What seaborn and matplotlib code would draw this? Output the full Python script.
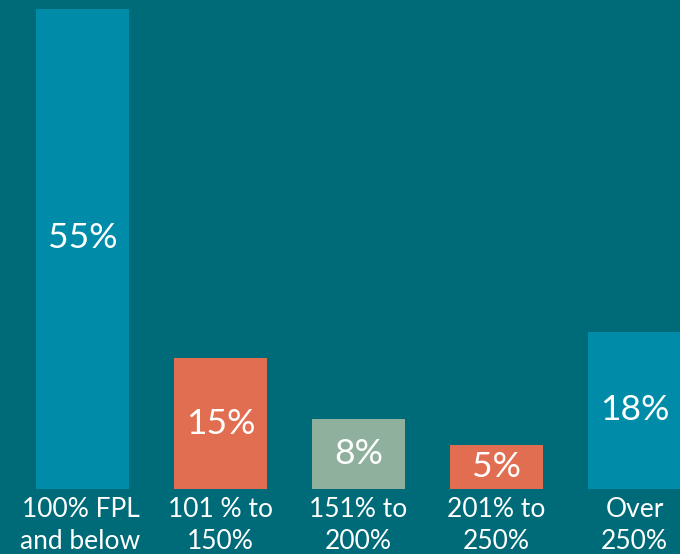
import matplotlib
matplotlib.use("Agg")
import matplotlib.pyplot as plt
import seaborn as sns
import pandas as pd

categories = ["100% FPL\nand below", "101 % to\n150%", "151% to\n200%", "201% to\n250%", "Over\n250%"]
values = [55, 15, 8, 5, 18]
value_labels = ["55%", "15%", "8%", "5%", "18%"]
colors = ["#008ca8", "#e16e50", "#8fb09d", "#e16e50", "#008ca8"]
bg = "#006b78"

sns.set_theme(style="white")
plt.rcParams["font.family"] = ["Lato", "DejaVu Sans"]

W, H = 680, 554
fig = plt.figure(figsize=(W / 100, H / 100), dpi=100, facecolor=bg)
base_px = 489
ax = fig.add_axes([0, (H - base_px) / H, 1, base_px / H])
ax.set_facecolor(bg)

df = pd.DataFrame({"cat": categories, "val": values})
sns.barplot(data=df, x="cat", y="val", hue="cat", palette=colors, legend=False,
            width=0.67, linewidth=0, saturation=1, ax=ax)

px_per = 480 / 55
ax.set_ylim(0, base_px / px_per)
spacing = 138
c0 = 82.5
ax.set_xlim(-c0 / spacing, (W - c0) / spacing)
for s in ax.spines.values():
    s.set_visible(False)
ax.set_xticks([])
ax.set_yticks([])
ax.set_xlabel("")
ax.set_ylabel("")

for i, (v, lab) in enumerate(zip(values, value_labels)):
    dy = -11 if v > 40 else 0
    ax.annotate(lab, xy=(i, v / 2), xytext=(0, -dy), textcoords="offset pixels",
                ha="center", va="center", color="white", fontsize=25.5)

for i, cat in enumerate(categories):
    ax.annotate(cat, xy=(i, 0), xycoords="data", xytext=(-2 if i == 0 else 0, -8),
                textcoords="offset pixels",
                ha="center", va="top", color="white", fontsize=19, linespacing=1.35,
                annotation_clip=False)

fig.savefig("out.png", dpi=100, facecolor=bg)
